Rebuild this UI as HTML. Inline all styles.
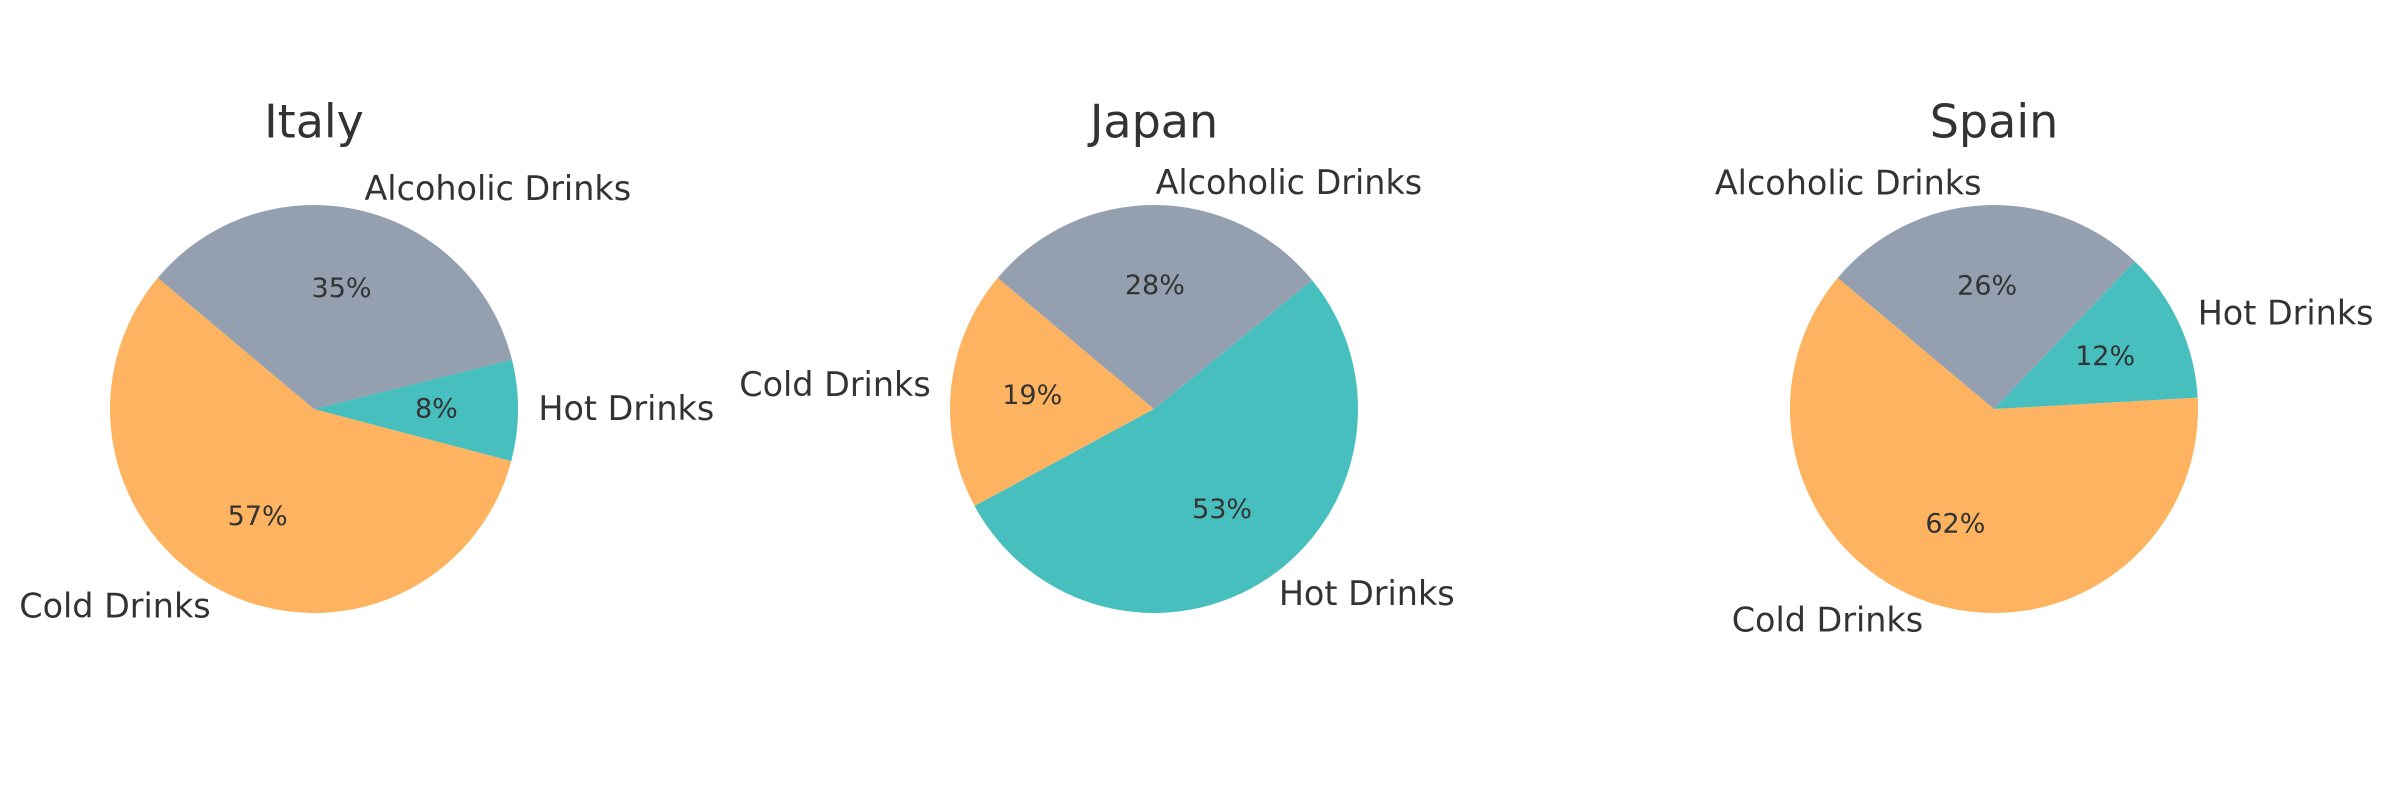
<!DOCTYPE html>
<html><head><meta charset="utf-8"><style>
html,body{margin:0;padding:0;background:#fff;}
svg{display:block;font-family:"DejaVu Sans","Liberation Sans",sans-serif;}
</style></head><body>
<svg id="chart" width="2400" height="800" viewBox="0 0 2400 800" xmlns="http://www.w3.org/2000/svg"></svg>
<script>
const countries = ["Italy", "Japan", "Spain"];
const categories = ["Cold Drinks", "Hot Drinks", "Alcoholic Drinks"];
const italyValues = [57, 8, 35];
const japanValues = [19, 53, 28];
const spainValues = [62, 12, 26];
const seriesValues = [italyValues, japanValues, spainValues];

const colors = ["#fdb35f", "#47bfbe", "#94a0b0"];
const svg = document.getElementById('chart');
const NS = "http://www.w3.org/2000/svg";
const cxs = [314, 1154, 1994], cy = 409, R = 204, startAngle = 140;

function pt(cx, r, deg){ const a = deg*Math.PI/180; return [cx + r*Math.cos(a), cy - r*Math.sin(a)]; }
function mk(tag, attrs){ const e = document.createElementNS(NS, tag); for (const k in attrs) e.setAttribute(k, attrs[k]); return e; }

countries.forEach((country, ci) => {
  const cx = cxs[ci];
  const vals = seriesValues[ci];
  const total = vals.reduce((a,b)=>a+b,0);
  const g = mk('g', {});
  
  
  svg.appendChild(g);
  const title = mk('text', {x: cx, y: 125, 'text-anchor':'middle', 'dominant-baseline':'middle', 'font-size': 46, fill:'#333'});
  title.textContent = country;
  
  
  g.appendChild(title);
  let a0 = startAngle;
  vals.forEach((v, i) => {
    const sweep = v/total*360, a1 = a0 + sweep;
    const [x0,y0] = pt(cx, R, a0), [x1,y1] = pt(cx, R, a1);
    const path = mk('path', {d:`M${cx},${cy} L${x0},${y0} A${R},${R} 0 ${sweep>180?1:0} 0 ${x1},${y1} Z`, fill: colors[i]});
    
    
    g.appendChild(path);
    const mid = (a0+a1)/2;
    const [lx,ly] = pt(cx, R*1.1, mid);
    const lab = mk('text', {x: lx, y: ly, 'text-anchor': (lx>cx?'start':'end'), 'dominant-baseline':'middle', 'font-size': 33.4, fill:'#333'});
    lab.textContent = categories[i];
    
    
    g.appendChild(lab);
    const [px,py] = pt(cx, R*0.6, mid);
    const pct = mk('text', {x: px, y: py, 'text-anchor':'middle', 'dominant-baseline':'middle', 'font-size': 27, fill:'#333'});
    pct.textContent = Math.round(v/total*100) + '%';
    
    
    g.appendChild(pct);
    a0 = a1;
  });
});
</script>
</body></html>
